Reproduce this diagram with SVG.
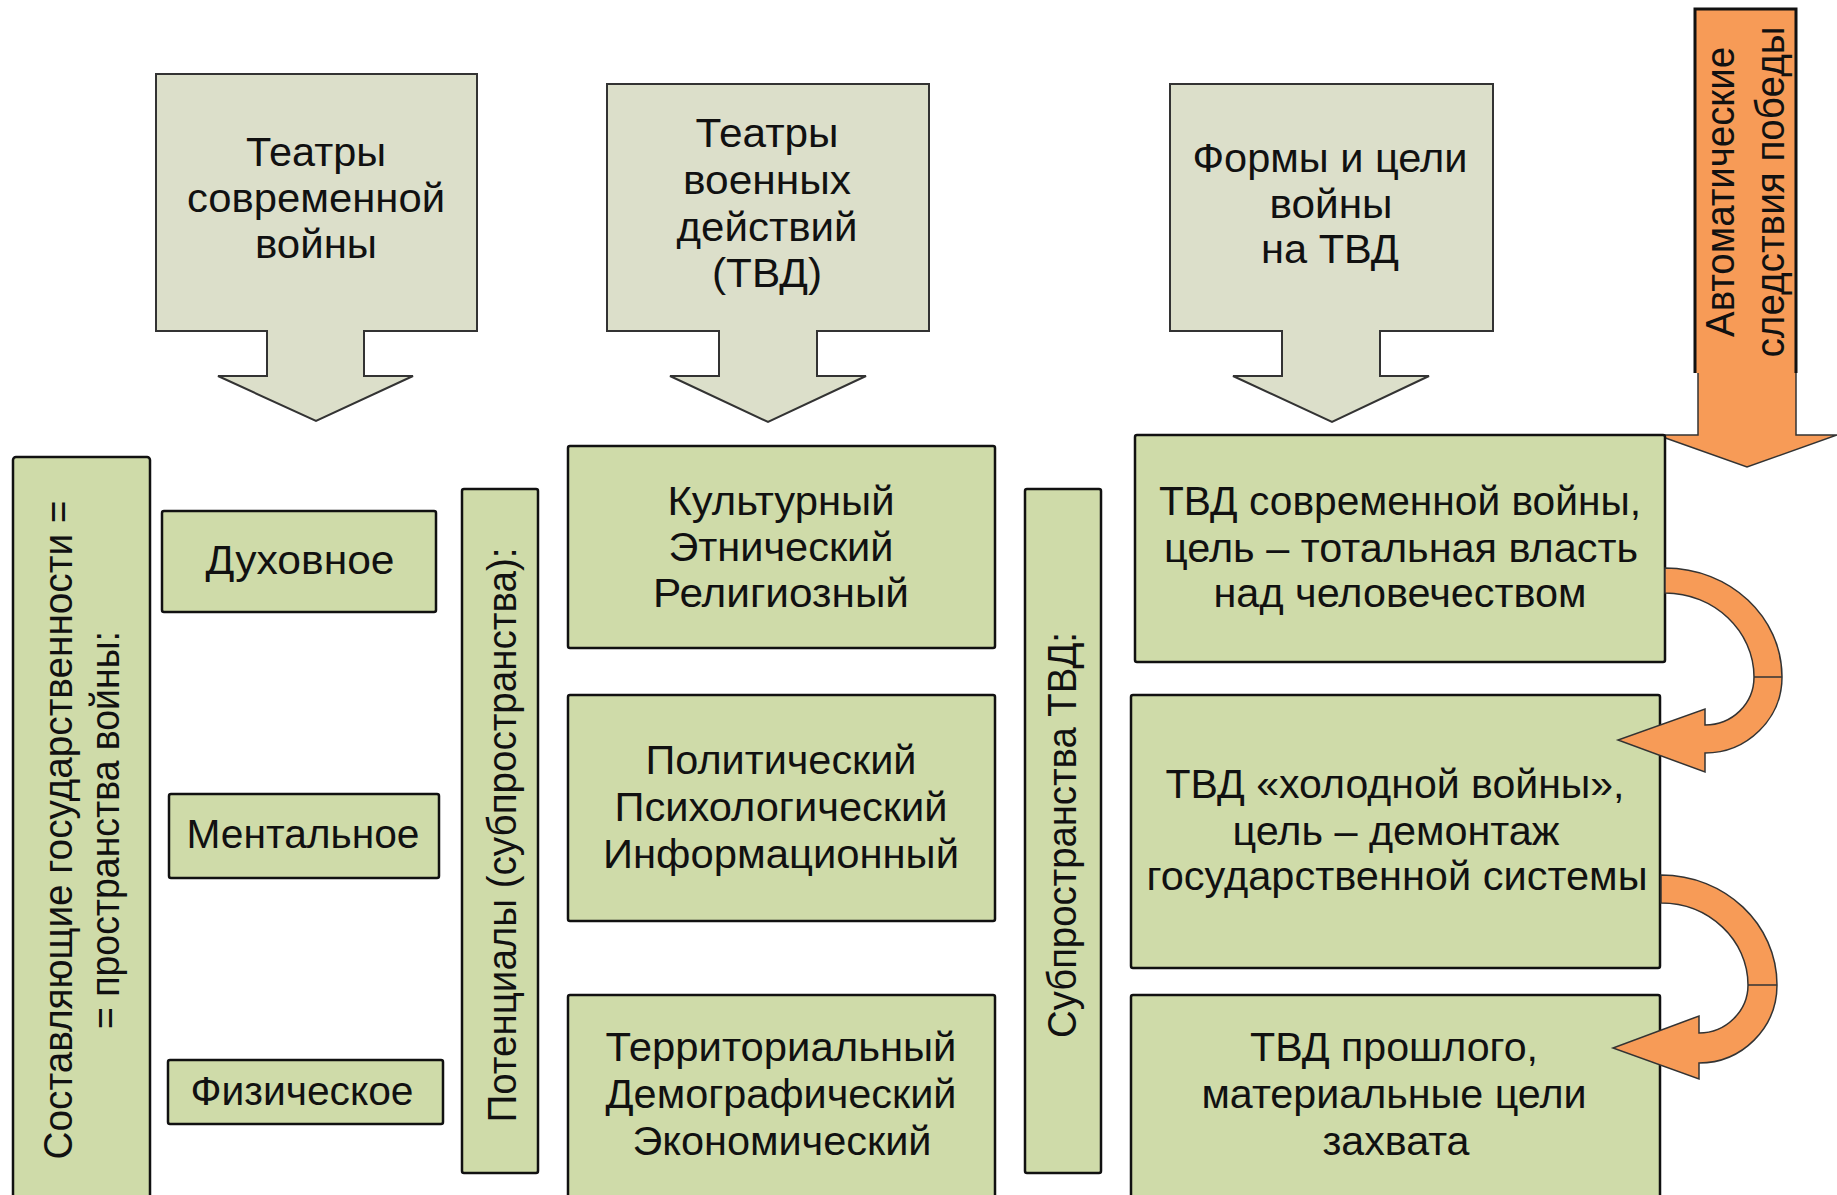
<svg xmlns="http://www.w3.org/2000/svg" width="1837" height="1195" viewBox="0 0 1837 1195">
<style>
.top{fill:#DCDFCA;stroke:#333;stroke-width:2}
.box{fill:#CFDBA9;stroke:#111;stroke-width:2.5}
.or{fill:#F79B57;stroke:#333;stroke-width:1.5}
text{font-family:"Liberation Sans",Arial,sans-serif;font-size:40px;fill:#111;text-anchor:middle}
</style>
<rect width="1837" height="1195" fill="#fff"/>
<g id="top-theatres-modern">
<path class="top" d="M156 74H477V331H364V376H413L316 421L218 376H267V331H156Z"/>
<text x="316" y="166" textLength="140" lengthAdjust="spacingAndGlyphs">Театры</text>
<text x="316" y="212" textLength="258" lengthAdjust="spacingAndGlyphs">современной</text>
<text x="316" y="258" textLength="122" lengthAdjust="spacingAndGlyphs">войны</text>
</g>
<g id="top-tvd">
<path class="top" d="M607 84H929V331H817V376H866L768 422L670 376H719V331H607Z"/>
<text x="767" y="147" textLength="143" lengthAdjust="spacingAndGlyphs">Театры</text>
<text x="767" y="194" textLength="168" lengthAdjust="spacingAndGlyphs">военных</text>
<text x="767" y="241" textLength="181" lengthAdjust="spacingAndGlyphs">действий</text>
<text x="767" y="287" textLength="110" lengthAdjust="spacingAndGlyphs">(ТВД)</text>
</g>
<g id="top-forms">
<path class="top" d="M1170 84H1493V331H1380V376H1429L1332 422L1233 376H1282V331H1170Z"/>
<text x="1330" y="172" textLength="275" lengthAdjust="spacingAndGlyphs">Формы и цели</text>
<text x="1331" y="218" textLength="123" lengthAdjust="spacingAndGlyphs">войны</text>
<text x="1330" y="263" textLength="138" lengthAdjust="spacingAndGlyphs">на ТВД</text>
</g>
<g id="victory-arrow">
<path class="or" d="M1698 9H1796V435H1837L1747 467L1657 435H1698Z"/>
<rect x="1695" y="9" width="101" height="364" fill="#F79B57"/>
<path d="M1695 373V9H1796V373" fill="none" stroke="#111" stroke-width="3"/>
<g transform="translate(1734 192) rotate(-90)">
<text x="0" y="0" textLength="290" lengthAdjust="spacingAndGlyphs">Автоматические</text>
<text x="0" y="50" textLength="331" lengthAdjust="spacingAndGlyphs">следствия победы</text>
</g>
</g>
<g id="state-components">
<rect class="box" x="13" y="457" width="137" height="770" rx="3"/>
<g transform="translate(72 830) rotate(-90)">
<text x="0" y="0" textLength="659" lengthAdjust="spacingAndGlyphs">Составляющие государственности =</text>
<text x="0" y="47" textLength="398" lengthAdjust="spacingAndGlyphs">= пространства войны:</text>
</g>
</g>
<g id="spiritual">
<rect class="box" x="162" y="511" width="274" height="101" rx="2"/>
<text x="300" y="574" textLength="189" lengthAdjust="spacingAndGlyphs">Духовное</text>
</g>
<g id="mental">
<rect class="box" x="169" y="794" width="270" height="84" rx="2"/>
<text x="303" y="848" textLength="233" lengthAdjust="spacingAndGlyphs">Ментальное</text>
</g>
<g id="physical">
<rect class="box" x="168" y="1060" width="275" height="64" rx="2"/>
<text x="302" y="1105" textLength="223" lengthAdjust="spacingAndGlyphs">Физическое</text>
</g>
<g id="potentials">
<rect class="box" x="462" y="489" width="76" height="684" rx="2"/>
<g transform="translate(516 835) rotate(-90)">
<text x="0" y="0" textLength="575" lengthAdjust="spacingAndGlyphs">Потенциалы (субпространства):</text>
</g>
</g>
<g id="cultural">
<rect class="box" x="568" y="446" width="427" height="202" rx="2"/>
<text x="781" y="515" textLength="227" lengthAdjust="spacingAndGlyphs">Культурный</text>
<text x="781" y="561" textLength="225" lengthAdjust="spacingAndGlyphs">Этнический</text>
<text x="781" y="607" textLength="256" lengthAdjust="spacingAndGlyphs">Религиозный</text>
</g>
<g id="political">
<rect class="box" x="568" y="695" width="427" height="226" rx="2"/>
<text x="781" y="774" textLength="271" lengthAdjust="spacingAndGlyphs">Политический</text>
<text x="781" y="821" textLength="333" lengthAdjust="spacingAndGlyphs">Психологический</text>
<text x="781" y="868" textLength="356" lengthAdjust="spacingAndGlyphs">Информационный</text>
</g>
<g id="territorial">
<rect class="box" x="568" y="995" width="427" height="230" rx="2"/>
<text x="781" y="1061" textLength="351" lengthAdjust="spacingAndGlyphs">Территориальный</text>
<text x="781" y="1108" textLength="351" lengthAdjust="spacingAndGlyphs">Демографический</text>
<text x="782" y="1155" textLength="299" lengthAdjust="spacingAndGlyphs">Экономический</text>
</g>
<g id="subspaces">
<rect class="box" x="1025" y="489" width="76" height="684" rx="2"/>
<g transform="translate(1076 835) rotate(-90)">
<text x="0" y="0" textLength="406" lengthAdjust="spacingAndGlyphs">Субпространства ТВД:</text>
</g>
</g>
<g id="tvd-modern">
<rect class="box" x="1135" y="435" width="530" height="227" rx="2"/>
<text x="1400" y="515" textLength="482" lengthAdjust="spacingAndGlyphs">ТВД современной войны,</text>
<text x="1401" y="562" textLength="474" lengthAdjust="spacingAndGlyphs">цель – тотальная власть</text>
<text x="1400" y="607" textLength="373" lengthAdjust="spacingAndGlyphs">над человечеством</text>
</g>
<g id="tvd-cold">
<rect class="box" x="1131" y="695" width="529" height="273" rx="2"/>
<text x="1395" y="798" textLength="459" lengthAdjust="spacingAndGlyphs">ТВД «холодной войны»,</text>
<text x="1396" y="845" textLength="327" lengthAdjust="spacingAndGlyphs">цель – демонтаж</text>
<text x="1397" y="890" textLength="501" lengthAdjust="spacingAndGlyphs">государственной системы</text>
</g>
<g id="tvd-past">
<rect class="box" x="1131" y="995" width="529" height="230" rx="2"/>
<text x="1394" y="1061" textLength="288" lengthAdjust="spacingAndGlyphs">ТВД прошлого,</text>
<text x="1394" y="1108" textLength="385" lengthAdjust="spacingAndGlyphs">материальные цели</text>
<text x="1396" y="1155" textLength="147" lengthAdjust="spacingAndGlyphs">захвата</text>
</g>
<g id="connectors">
<path class="or" d="M1665 568C1730 568 1782 617 1782 677C1782 719 1747 753 1705 753V772L1618 740L1705 709V725C1732 725 1754 704 1754 677C1754 631 1714 593 1665 593Z"/>
<line x1="1754" y1="677" x2="1782" y2="677" stroke="#333" stroke-width="1.5"/>
<path class="or" d="M1661 875C1725 875 1777 924 1777 985C1777 1028 1742 1063 1699 1063V1079L1613 1048L1699 1016V1033C1726 1033 1748 1011 1748 985C1748 940 1709 903 1661 903Z"/>
<line x1="1748" y1="985" x2="1777" y2="985" stroke="#333" stroke-width="1.5"/>
</g>
</svg>
